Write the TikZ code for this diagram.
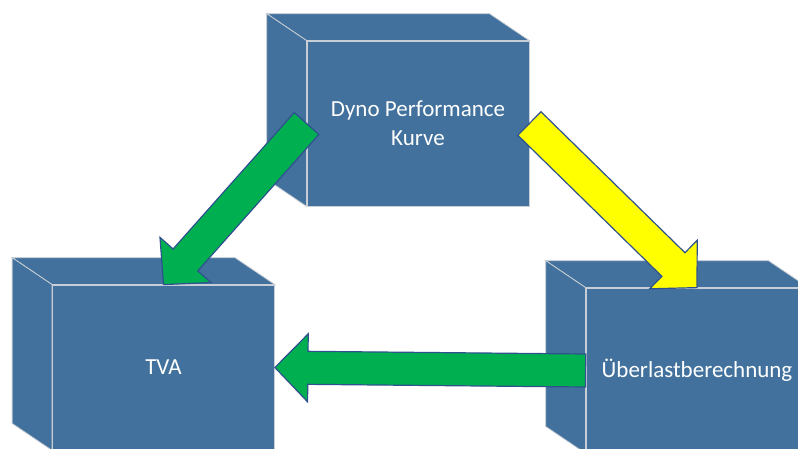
\documentclass[tikz,border=0pt]{standalone}
\usepackage{fontspec}
\setmainfont{Carlito}
\usetikzlibrary{calc,backgrounds}
\definecolor{cubeblue}{RGB}{65,113,156}
\definecolor{edgegray}{RGB}{200,206,214}
\definecolor{rimblue}{RGB}{47,82,143}
\definecolor{arrowgreen}{RGB}{0,176,80}
\definecolor{arrowyellow}{RGB}{255,255,0}

\begin{document}
\begin{tikzpicture}[
  x=1pt, y=-1pt,
  face/.style  = {
    draw=edgegray, fill=cubeblue,
    line width=0.8pt,
    minimum width=222pt, minimum height=165pt,
    inner sep=0pt, align=center,
    text=white, font=\fontsize{23}{29}\selectfont
  },
  side/.style  = {draw=edgegray, fill=cubeblue, line width=0.8pt},
  block/.style = {draw=rimblue, line width=1.2pt, line join=miter}
]

% ---- constants ----
\def\shaft{16.5pt}   % half width of arrow shaft
\def\head{34pt}      % half width of arrow head
\def\tip{33pt}       % length of arrow head

\useasboundingbox (0,0) rectangle (798,448);

% ---- front faces ----
\node[face] (dyno)  at (418,123.5) {Dyno Performance\\Kurve};
\node[face] (tva)   at (163.5,367.5) {TVA};
\node[face] (ueber) at (697,370.5) {Überlastberechnung};

% ---- top and left faces of the cubes ----
\begin{scope}[on background layer]
  \foreach \n in {dyno,tva,ueber} {
    \filldraw[side] (\n.north west) -- ++(-40,-27)
      -- ($(\n.north east)+(-40,-27)$) -- (\n.north east) -- cycle;
    \filldraw[side] (\n.north west) -- ++(-40,-27)
      -- ($(\n.south west)+(-40,-27)$) -- (\n.south west) -- cycle;
  }
\end{scope}

% ---- block arrows ----
\foreach \from/\to/\col in {dyno.west/tva.north/arrowgreen,
                             dyno.east/ueber.north/arrowyellow,
                             ueber.west/tva.east/arrowgreen} {
  \coordinate (t) at (\from);
  \coordinate (p) at (\to);
  \coordinate (h) at ($(p)!\tip!(t)$);
  \filldraw[block, fill=\col]
    ($(t)!\shaft!90:(p)$) -- ($(h)!\shaft!90:(p)$)
    -- ($(h)!\head!90:(p)$) -- (p)
    -- ($(h)!\head!-90:(p)$) -- ($(h)!\shaft!-90:(p)$)
    -- ($(t)!\shaft!-90:(p)$) -- cycle;
}

\end{tikzpicture}
\end{document}
